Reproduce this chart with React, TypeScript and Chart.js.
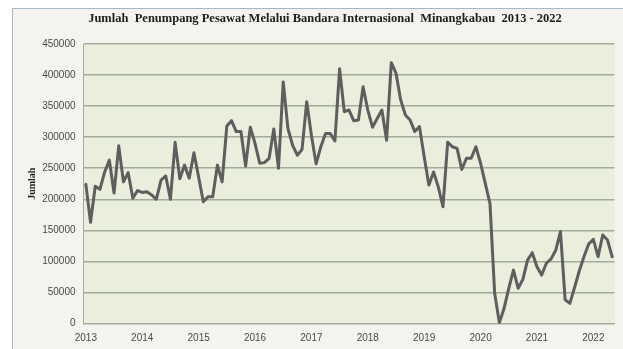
import { useEffect, useRef } from "react";
import { Chart, registerables } from "chart.js";

Chart.register(...registerables);

// Monthly passenger counts, Minangkabau International Airport
const YEARS = [2013, 2014, 2015, 2016, 2017, 2018, 2019, 2020, 2021, 2022];
const MONTHS = ["Jan", "Feb", "Mar", "Apr", "Mei", "Jun", "Jul", "Agu", "Sep", "Okt", "Nov", "Des"];

const V2013 = [224000, 163000, 221000, 216000, 244000, 263000, 210000, 286000, 228000, 243000, 201500, 214000];
const V2014 = [211000, 212000, 207000, 200000, 231000, 237500, 200000, 291700, 233000, 255000, 234000, 275000];
const V2015 = [236000, 196000, 204000, 204000, 255000, 228000, 318000, 326500, 309000, 309000, 253500, 316000];
const V2016 = [290000, 258000, 259000, 266000, 313000, 250000, 389000, 314000, 287000, 271000, 280000, 357000];
const V2017 = [303000, 257000, 284500, 306000, 306000, 294000, 410000, 341000, 343700, 326500, 327600, 381000];
const V2018 = [343700, 316000, 330000, 343700, 295000, 420000, 403000, 360000, 335700, 327600, 309000, 317000];
const V2019 = [268500, 223000, 244000, 220000, 188000, 292000, 284600, 282000, 248000, 266000, 266000, 284600];
const V2020 = [258000, 225700, 193500, 48600, 1000, 24500, 56700, 86000, 56700, 71000, 102000, 114000];
const V2021 = [91500, 78000, 97000, 104000, 118000, 148000, 38000, 32500, 58000, 84500, 107500, 128000];
const V2022 = [135500, 107500, 142500, 134500, 107500];

const PASSENGERS = [
  ...V2013, ...V2014, ...V2015, ...V2016, ...V2017,
  ...V2018, ...V2019, ...V2020, ...V2021, ...V2022,
];

const LABELS = YEARS.flatMap((y) => MONTHS.map((m) => `${m} ${y}`)).slice(0, PASSENGERS.length);

const TITLE = "Jumlah  Penumpang Pesawat Melalui Bandara Internasional  Minangkabau  2013 - 2022";
const Y_TITLE = "Jumlah";

const GRID = "#a5ab9b";
const PLOT_BG = "#e9eedd";

const plotBackground = {
  id: "plotBackground",
  beforeDraw(chart: any) {
    const { ctx, chartArea } = chart;
    ctx.save();
    ctx.fillStyle = PLOT_BG;
    ctx.fillRect(chartArea.left, chartArea.top, chartArea.right - chartArea.left, chartArea.bottom - chartArea.top);
    ctx.restore();
  },
};

const titlePlugin = {
  id: "headline",
  afterDraw(chart: any) {
    const { ctx } = chart;
    ctx.save();
    ctx.font = 'bold 12.5px "Liberation Serif", "Times New Roman", serif';
    ctx.fillStyle = "#1e1e1e";
    ctx.textAlign = "center";
    ctx.textBaseline = "middle";
    ctx.fillText(TITLE, 325, 19);
    ctx.restore();
  },
};

export default function App() {
  const canvasRef = useRef<HTMLCanvasElement | null>(null);

  useEffect(() => {
    if (!canvasRef.current) return;
    const chart = new Chart(canvasRef.current, {
      type: "line",
      data: {
        labels: LABELS,
        datasets: [
          {
            label: Y_TITLE,
            data: PASSENGERS,
            borderColor: "#5e5e5e",
            borderWidth: 3,
            pointRadius: 0,
            tension: 0,
            borderJoinStyle: "round",
            borderCapStyle: "round",
            fill: false,
          },
        ],
      },
      options: {
        animation: false,
        responsive: false,
        layout: { padding: { left: 20, right: 8.5, top: 44, bottom: 0 } },
        plugins: {
          legend: { display: false },
          tooltip: { enabled: false },
          title: { display: false },
        },
        scales: {
          x: {
            type: "category",
            offset: true,
            grid: { display: false, drawTicks: false },
            border: { display: true, color: GRID, width: 1 },
            ticks: {
              autoSkip: false,
              maxRotation: 0,
              minRotation: 0,
              padding: 9,
              color: "#4a4a4a",
              font: { family: '"Liberation Sans", Arial, sans-serif', size: 10 },
              callback: (_v: any, i: number) => (i % 12 === 0 ? String(YEARS[i / 12]) : ""),
            },
            afterFit: (s: any) => {
              s.height = 25.5;
            },
          },
          y: {
            min: 0,
            max: 450000,
            ticks: {
              stepSize: 50000,
              padding: 8,
              color: "#4a4a4a",
              font: { family: '"Liberation Sans", Arial, sans-serif', size: 10 },
              callback: (v: any) => String(v),
            },
            grid: { color: GRID, lineWidth: 1.5, drawTicks: false },
            border: { display: true, color: GRID, width: 1 },
            title: {
              display: true,
              text: Y_TITLE,
              color: "#1e1e1e",
              font: { family: '"Liberation Serif", "Times New Roman", serif', weight: "bold", size: 10 },
              padding: { top: 6, bottom: 0 },
            },
            afterFit: (s: any) => {
              s.width = 63.5;
            },
          },
        },
      },
      plugins: [plotBackground, titlePlugin],
    });
    return () => chart.destroy();
  }, []);

  return (
    <div
      style={{
        position: "fixed",
        left: 0,
        top: 0,
        width: 623,
        height: 349,
        background: "#ffffff",
        overflow: "hidden",
      }}
    >
      <div
        style={{
          position: "absolute",
          left: 12,
          top: 8,
          width: 700,
          height: 400,
          border: "1px solid #a8b8c8",
          background: "#f4f3ef",
        }}
      />
      <canvas
        ref={canvasRef}
        width={623}
        height={349}
        style={{ position: "absolute", left: 0, top: 0, width: 623, height: 349 }}
      />
    </div>
  );
}
